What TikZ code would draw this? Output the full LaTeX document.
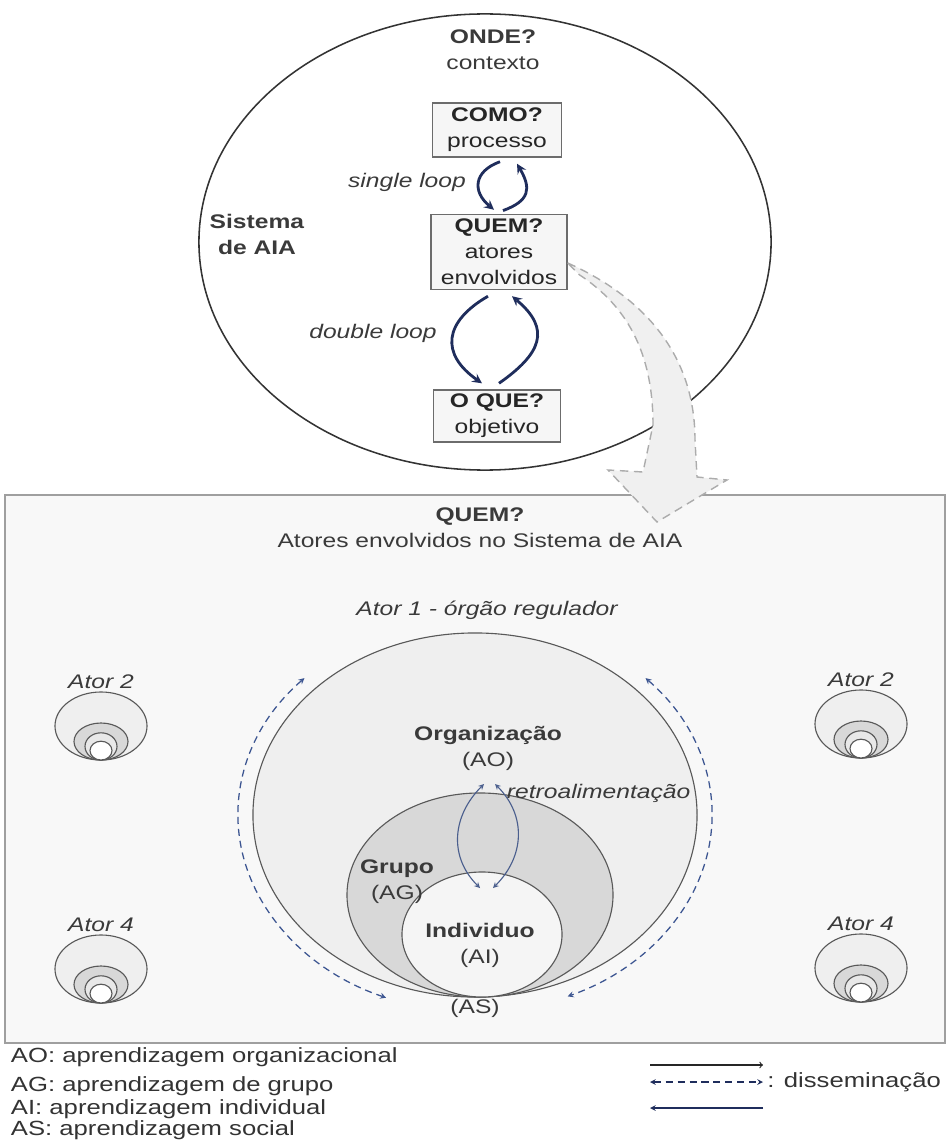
\documentclass[tikz,border=0pt]{standalone}
\usepackage{fontspec}
\setmainfont[FakeStretch=1.25]{Liberation Sans}
\usetikzlibrary{arrows,shapes.geometric,calc}
\definecolor{navy}{RGB}{31,45,92}
\definecolor{dissblue}{RGB}{60,85,145}
\definecolor{txt}{RGB}{58,58,58}
\definecolor{orgfill}{RGB}{239,239,239}
\definecolor{grpfill}{RGB}{216,216,216}
\definecolor{indfill}{RGB}{245,245,245}
\definecolor{panelfill}{RGB}{248,248,248}
\tikzset{l/.style={font=\fontsize{14}{18.5}\selectfont, text=txt, align=center}}
\tikzset{it/.style={l, font=\fontsize{14}{18.5}\selectfont\itshape}}
\tikzset{lg/.style={l, font=\fontsize{14.6}{18.5}\selectfont, text=black!80, anchor=west}}
\tikzset{qbox/.style={l, text=black!85, draw=gray!85!black, fill=gray!7, line width=1pt, inner sep=1pt}}
\tikzset{ring/.style={ellipse, draw=gray!70!black, line width=0.8pt, inner sep=0pt}}
\tikzset{loopar/.style={->, >=stealth, navy, line width=2pt, looseness=1.5}}
\tikzset{retro/.style={<->, >=stealth, color=dissblue!80!gray, line width=0.8pt, looseness=1.1}}
\tikzset{dissem/.style={<->, >=stealth, dissblue, line width=0.9pt, dash pattern=on 5pt off 3.5pt}}
\tikzset{bigarrow/.style={draw=gray!65, fill=gray!12, line width=1pt, dash pattern=on 6pt off 4pt}}

\begin{document}
\begin{tikzpicture}[x=0.025cm,y=0.025cm]
  \useasboundingbox (0,0) rectangle (951,-1148);
  % Sistema de AIA
  \node[ring, draw=black!80, line width=1.1pt, minimum width=14.3cm, minimum height=11.4cm] (onde) at (485,-242) {};
  \node[l] (ondet) at (493,-50) {\textbf{ONDE?}\\contexto};
  \node[l] (aia) at (257,-234) {\textbf{Sistema}\\\textbf{de AIA}};
  \node[qbox, minimum width=3.225cm, minimum height=1.35cm] (como) at (497,-130) {\textbf{COMO?}\\processo};
  \node[qbox, minimum width=3.4cm, minimum height=1.875cm] (quem) at (499,-252) {\textbf{QUEM?}\\atores\\envolvidos};
  \node[qbox, minimum width=3.175cm, minimum height=1.3cm] (oque) at (497,-416) {\textbf{O QUE?}\\objetivo};
  \draw[loopar] ([xshift=0.075cm,yshift=-0.1cm]como.south) to[out=200,in=140] ([xshift=-0.125cm,yshift=0.1cm]quem.north);
  \draw[loopar] ([xshift=0.1cm,yshift=0.08cm]quem.north) to[out=20,in=-60] ([xshift=0.5cm,yshift=-0.15cm]como.south);
  \node[it] (sl) at (407,-182) {single loop};
  \draw[loopar] ([xshift=-0.275cm,yshift=-0.15cm]quem.south) to[out=210,in=145] ([xshift=-0.375cm,yshift=0.15cm]oque.north);
  \draw[loopar] ([xshift=0.05cm,yshift=0.15cm]oque.north) to[out=35,in=-40] ([xshift=0.325cm,yshift=-0.15cm]quem.south);
  \node[it] (dl) at (373,-333) {double loop};

  % atores
  \draw[line width=1.2pt, draw=gray!75, fill=panelfill] (5,-495) rectangle (945,-1043);
  \coordinate (hook) at ($(quem.east)+(0,-11)$);
  \draw[bigarrow] (hook) .. controls (650,-300) and (695,-360) .. (695,-440) -- (697,-477) -- (727,-480)
    -- (657,-522) -- (608,-470) -- (643,-472) -- (653,-425) .. controls (653,-350) and (625,-305) .. ($(hook)+(12,-12)$) -- cycle;
  \node[l] (qt) at (480,-528) {\textbf{QUEM?}\\Atores envolvidos no Sistema de AIA};
  \node[it] (a1) at (487,-610) {Ator 1 - órgão regulador};
  \node[ring, fill=orgfill, minimum width=11.1cm, minimum height=9.1cm] (org) at (475,-815) {};
  \node[ring, fill=grpfill, minimum width=6.65cm, minimum height=5.1cm] (grp) at (480,-895) {};
  \node[ring, fill=indfill, minimum width=4cm, minimum height=3.125cm] (ind) at (482,-934.5) {};
  \node[l] (orgt) at (488,-748) {\textbf{Organização}\\(AO)};
  \node[l] (grpt) at (397,-882) {\textbf{Grupo}\\(AG)};
  \node[l] (indt) at (480,-945) {\textbf{Individuo}\\(AI)};
  \node[l] (ast) at (475,-1008) {(AS)};
  \node[it, anchor=west] (rtt) at (502,-793) {retroalimentação};
  \coordinate (rt) at (489,-784);
  \coordinate (rb) at (487,-888);
  \draw[retro] ([xshift=-0.125cm]rt) to[out=225,in=135] ([xshift=-0.175cm]rb);
  \draw[retro] ([xshift=0.15cm]rb) to[out=45,in=-45] ([xshift=0.15cm]rt);
  \draw[dissem] ($(org.center)+(136:5.925cm and 4.925cm)$) arc[start angle=136, end angle=248, x radius=5.925cm, y radius=4.925cm];
  \draw[dissem] ($(org.center)+(44:5.925cm and 4.925cm)$) arc[start angle=44, end angle=-67, x radius=5.925cm, y radius=4.925cm];
  \foreach \ax/\ay/\an [count=\i] in {101/726/2, 861/724/2, 101/969/4, 861/968/4}{
    \node[ring, fill=orgfill, minimum width=2.3cm, minimum height=1.7cm] (act\i) at (\ax,-\ay) {};
    \node[ring, fill=grpfill, minimum width=1.35cm, minimum height=0.925cm, anchor=south] at (act\i.south) {};
    \node[ring, fill=grpfill!60, minimum width=0.8cm, minimum height=0.68cm, anchor=south] at (act\i.south) {};
    \node[ring, fill=white, minimum width=0.55cm, minimum height=0.47cm, anchor=south] at (act\i.south) {};
    \node[it] at (\ax,-\ay+44) {Ator \an};
  }

  % legenda
  \node[lg] (lao) at (6,-1057) {AO: aprendizagem organizacional};
  \node[lg] (lag) at (6,-1086) {AG: aprendizagem de grupo};
  \node[lg] (lai) at (6,-1109) {AI: aprendizagem individual};
  \node[lg] (las) at (6,-1130) {AS: aprendizagem social};
  \node[lg, inner sep=0pt] (dis) at (767,-1082) {: disseminação};
  \coordinate (k1) at (650,-1065);
  \coordinate (k2) at (763,-1065);
  \coordinate (k3) at (650,-1108);
  \coordinate (k4) at (763,-1108);
  \draw[->, >=to, gray!30!black, line width=0.8pt] (k1) -- (k2);
  \draw[<->, >=stealth, navy, line width=0.8pt, dash pattern=on 5pt off 3.5pt] (k1 |- dis.west) -- (k2 |- dis.west);
  \draw[->, >=stealth, navy, line width=0.8pt] (k4) -- (k3);
\end{tikzpicture}
\end{document}
